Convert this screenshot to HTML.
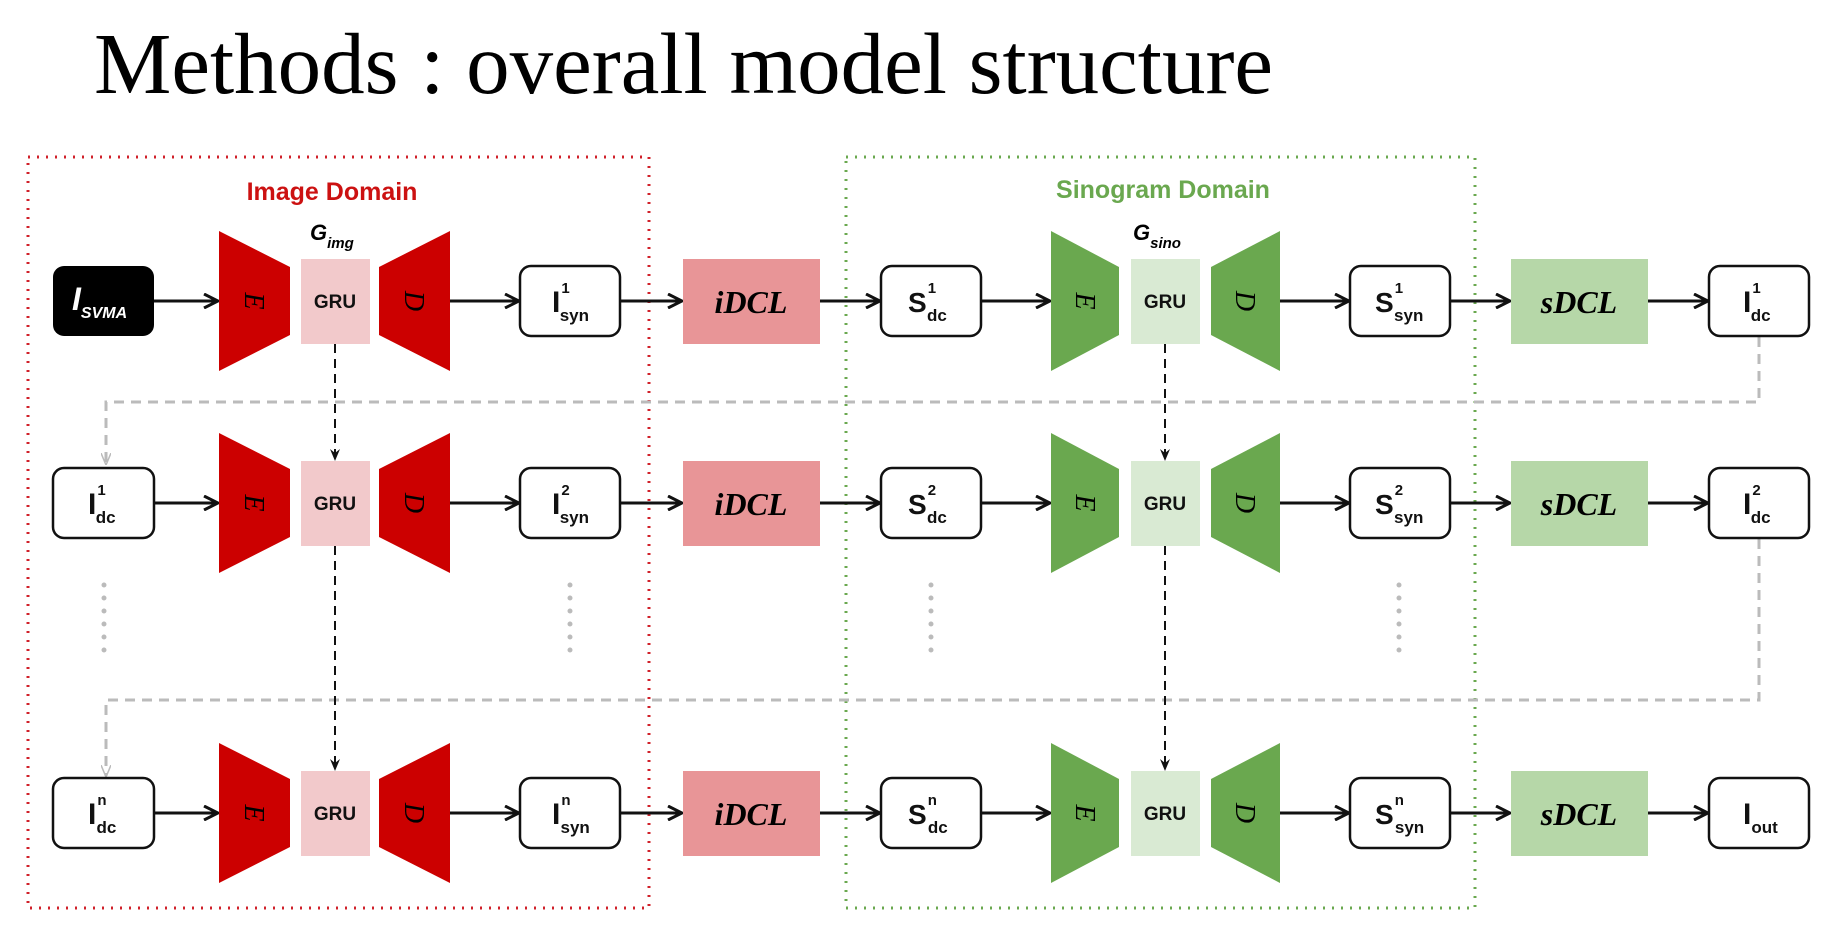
<!DOCTYPE html>
<html><head><meta charset="utf-8"><style>
html,body{margin:0;padding:0;background:#fff;}
svg{display:block;}
.t{font-family:"Liberation Sans",sans-serif;}
.b{font-family:"Liberation Sans",sans-serif;font-weight:bold;fill:#111;}
</style></head><body>
<svg width="1844" height="935" viewBox="0 0 1844 935" xmlns="http://www.w3.org/2000/svg">
<defs>
<marker id="ar" markerWidth="16" markerHeight="16" refX="15" refY="8" orient="auto" markerUnits="userSpaceOnUse">
<path d="M1,1 L15,8 L1,15" fill="none" stroke="#111" stroke-width="3"/></marker>
<marker id="ad" markerWidth="10" markerHeight="12" refX="5" refY="11" orient="0" markerUnits="userSpaceOnUse">
<path d="M0,0 L5,12 L10,0 L5,4 Z" fill="#111"/></marker>
<marker id="ag" markerWidth="10" markerHeight="12" refX="5" refY="11" orient="0" markerUnits="userSpaceOnUse">
<path d="M0,0 L5,12 L10,0" fill="none" stroke="#bbb" stroke-width="1.5"/></marker>
</defs>
<text x="94" y="93" font-family="Liberation Serif, serif" font-size="87" fill="#000">Methods : overall model structure</text>

<rect x="28" y="157" width="621" height="751" fill="none" stroke="#d0202a" stroke-width="3" stroke-dasharray="2 7"/>
<rect x="846" y="157" width="629" height="751" fill="none" stroke="#6aa84f" stroke-width="3" stroke-dasharray="2 7"/>
<text x="332" y="200" text-anchor="middle" class="t" font-size="25" font-weight="bold" fill="#cc1111">Image Domain</text>
<text x="1163" y="198" text-anchor="middle" class="t" font-size="25" font-weight="bold" fill="#6aa84f">Sinogram Domain</text>
<text x="310" y="240" class="t" font-size="22" font-weight="bold" font-style="italic">G<tspan font-size="15" dy="8">img</tspan></text>
<text x="1133" y="240" class="t" font-size="22" font-weight="bold" font-style="italic">G<tspan font-size="15" dy="8">sino</tspan></text>

<g fill="none" stroke="#bbb" stroke-width="3" stroke-dasharray="10 7">
<path d="M1759 337 V402 H106 V464" marker-end="url(#ag)"/>
<path d="M1759 539 V700 H106 V776" marker-end="url(#ag)"/>
</g>
<g stroke="#bbb" stroke-width="5" stroke-linecap="round" stroke-dasharray="0 13">
<line x1="104" y1="585" x2="104" y2="660"/>
<line x1="570" y1="585" x2="570" y2="660"/>
<line x1="931" y1="585" x2="931" y2="660"/>
<line x1="1399" y1="585" x2="1399" y2="660"/>
</g>
<g stroke="#111" stroke-width="2" stroke-dasharray="9 6" fill="none">
<line x1="335" y1="344" x2="335" y2="460" marker-end="url(#ad)"/>
<line x1="335" y1="546" x2="335" y2="770" marker-end="url(#ad)"/>
<line x1="1165" y1="344" x2="1165" y2="460" marker-end="url(#ad)"/>
<line x1="1165" y1="546" x2="1165" y2="770" marker-end="url(#ad)"/>
</g>

<!-- ROW 1 -->
<g>
<rect x="53" y="266" width="101" height="70" rx="11" fill="#000"/>
<text x="72" y="310" font-family="Liberation Sans,sans-serif" font-size="32" font-weight="bold" font-style="italic" fill="#fff">I<tspan font-size="16" dy="8">SVMA</tspan></text>
<polygon points="219,231 290,267 290,335 219,371" fill="#cc0000"/>
<rect x="301" y="259" width="69" height="85" fill="#f2c9cb"/>
<polygon points="379,267 450,231 450,371 379,335" fill="#cc0000"/>
<text x="335" y="308" text-anchor="middle" class="b" font-size="19">GRU</text>
<text transform="translate(254,301) rotate(90)" text-anchor="middle" dy="9" font-family="Liberation Serif,serif" font-style="italic" font-size="28">E</text>
<text transform="translate(414,301) rotate(90)" text-anchor="middle" dy="9" font-family="Liberation Serif,serif" font-style="italic" font-size="28">D</text>
<rect x="520" y="266" width="100" height="70" rx="11" fill="#fff" stroke="#111" stroke-width="2.5"/>
<text x="552" y="312" class="b" font-size="30">I<tspan font-size="15" dx="1" dy="-19">1</tspan><tspan font-size="17" dx="-10" dy="28">syn</tspan></text>
<rect x="683" y="259" width="137" height="85" fill="#e89597"/>
<text x="751" y="313" text-anchor="middle" font-family="Liberation Serif,serif" font-size="32" font-weight="bold" font-style="italic">iDCL</text>
<rect x="881" y="266" width="100" height="70" rx="11" fill="#fff" stroke="#111" stroke-width="2.5"/>
<text x="908" y="312" class="b" font-size="28">S<tspan font-size="15" dx="1" dy="-19">1</tspan><tspan font-size="17" dx="-9" dy="28">dc</tspan></text>
<polygon points="1051,231 1119,267 1119,335 1051,371" fill="#6aa84f"/>
<rect x="1131" y="259" width="69" height="85" fill="#d9ead3"/>
<polygon points="1211,267 1280,231 1280,371 1211,335" fill="#6aa84f"/>
<text x="1165" y="308" text-anchor="middle" class="b" font-size="19">GRU</text>
<text transform="translate(1085,301) rotate(90)" text-anchor="middle" dy="9" font-family="Liberation Serif,serif" font-style="italic" font-size="28">E</text>
<text transform="translate(1245,301) rotate(90)" text-anchor="middle" dy="9" font-family="Liberation Serif,serif" font-style="italic" font-size="28">D</text>
<rect x="1350" y="266" width="100" height="70" rx="11" fill="#fff" stroke="#111" stroke-width="2.5"/>
<text x="1375" y="312" class="b" font-size="28">S<tspan font-size="15" dx="1" dy="-19">1</tspan><tspan font-size="17" dx="-9" dy="28">syn</tspan></text>
<rect x="1511" y="259" width="137" height="85" fill="#b6d7a8"/>
<text x="1579" y="313" text-anchor="middle" font-family="Liberation Serif,serif" font-size="32" font-weight="bold" font-style="italic">sDCL</text>
<rect x="1709" y="266" width="100" height="70" rx="11" fill="#fff" stroke="#111" stroke-width="2.5"/>
<text x="1743" y="312" class="b" font-size="30">I<tspan font-size="15" dx="1" dy="-19">1</tspan><tspan font-size="17" dx="-10" dy="28">dc</tspan></text>
</g>

<!-- ROW 2 -->
<g>
<rect x="53" y="468" width="101" height="70" rx="11" fill="#fff" stroke="#111" stroke-width="2.5"/>
<text x="88" y="514" class="b" font-size="30">I<tspan font-size="15" dx="1" dy="-19">1</tspan><tspan font-size="17" dx="-10" dy="28">dc</tspan></text>
<polygon points="219,433 290,469 290,537 219,573" fill="#cc0000"/>
<rect x="301" y="461" width="69" height="85" fill="#f2c9cb"/>
<polygon points="379,469 450,433 450,573 379,537" fill="#cc0000"/>
<text x="335" y="510" text-anchor="middle" class="b" font-size="19">GRU</text>
<text transform="translate(254,503) rotate(90)" text-anchor="middle" dy="9" font-family="Liberation Serif,serif" font-style="italic" font-size="28">E</text>
<text transform="translate(414,503) rotate(90)" text-anchor="middle" dy="9" font-family="Liberation Serif,serif" font-style="italic" font-size="28">D</text>
<rect x="520" y="468" width="100" height="70" rx="11" fill="#fff" stroke="#111" stroke-width="2.5"/>
<text x="552" y="514" class="b" font-size="30">I<tspan font-size="15" dx="1" dy="-19">2</tspan><tspan font-size="17" dx="-10" dy="28">syn</tspan></text>
<rect x="683" y="461" width="137" height="85" fill="#e89597"/>
<text x="751" y="515" text-anchor="middle" font-family="Liberation Serif,serif" font-size="32" font-weight="bold" font-style="italic">iDCL</text>
<rect x="881" y="468" width="100" height="70" rx="11" fill="#fff" stroke="#111" stroke-width="2.5"/>
<text x="908" y="514" class="b" font-size="28">S<tspan font-size="15" dx="1" dy="-19">2</tspan><tspan font-size="17" dx="-9" dy="28">dc</tspan></text>
<polygon points="1051,433 1119,469 1119,537 1051,573" fill="#6aa84f"/>
<rect x="1131" y="461" width="69" height="85" fill="#d9ead3"/>
<polygon points="1211,469 1280,433 1280,573 1211,537" fill="#6aa84f"/>
<text x="1165" y="510" text-anchor="middle" class="b" font-size="19">GRU</text>
<text transform="translate(1085,503) rotate(90)" text-anchor="middle" dy="9" font-family="Liberation Serif,serif" font-style="italic" font-size="28">E</text>
<text transform="translate(1245,503) rotate(90)" text-anchor="middle" dy="9" font-family="Liberation Serif,serif" font-style="italic" font-size="28">D</text>
<rect x="1350" y="468" width="100" height="70" rx="11" fill="#fff" stroke="#111" stroke-width="2.5"/>
<text x="1375" y="514" class="b" font-size="28">S<tspan font-size="15" dx="1" dy="-19">2</tspan><tspan font-size="17" dx="-9" dy="28">syn</tspan></text>
<rect x="1511" y="461" width="137" height="85" fill="#b6d7a8"/>
<text x="1579" y="515" text-anchor="middle" font-family="Liberation Serif,serif" font-size="32" font-weight="bold" font-style="italic">sDCL</text>
<rect x="1709" y="468" width="100" height="70" rx="11" fill="#fff" stroke="#111" stroke-width="2.5"/>
<text x="1743" y="514" class="b" font-size="30">I<tspan font-size="15" dx="1" dy="-19">2</tspan><tspan font-size="17" dx="-10" dy="28">dc</tspan></text>
</g>

<!-- ROW 3 -->
<g>
<rect x="53" y="778" width="101" height="70" rx="11" fill="#fff" stroke="#111" stroke-width="2.5"/>
<text x="88" y="824" class="b" font-size="30">I<tspan font-size="15" dx="1" dy="-19">n</tspan><tspan font-size="17" dx="-10" dy="28">dc</tspan></text>
<polygon points="219,743 290,779 290,847 219,883" fill="#cc0000"/>
<rect x="301" y="771" width="69" height="85" fill="#f2c9cb"/>
<polygon points="379,779 450,743 450,883 379,847" fill="#cc0000"/>
<text x="335" y="820" text-anchor="middle" class="b" font-size="19">GRU</text>
<text transform="translate(254,813) rotate(90)" text-anchor="middle" dy="9" font-family="Liberation Serif,serif" font-style="italic" font-size="28">E</text>
<text transform="translate(414,813) rotate(90)" text-anchor="middle" dy="9" font-family="Liberation Serif,serif" font-style="italic" font-size="28">D</text>
<rect x="520" y="778" width="100" height="70" rx="11" fill="#fff" stroke="#111" stroke-width="2.5"/>
<text x="552" y="824" class="b" font-size="30">I<tspan font-size="15" dx="1" dy="-19">n</tspan><tspan font-size="17" dx="-10" dy="28">syn</tspan></text>
<rect x="683" y="771" width="137" height="85" fill="#e89597"/>
<text x="751" y="825" text-anchor="middle" font-family="Liberation Serif,serif" font-size="32" font-weight="bold" font-style="italic">iDCL</text>
<rect x="881" y="778" width="100" height="70" rx="11" fill="#fff" stroke="#111" stroke-width="2.5"/>
<text x="908" y="824" class="b" font-size="28">S<tspan font-size="15" dx="1" dy="-19">n</tspan><tspan font-size="17" dx="-9" dy="28">dc</tspan></text>
<polygon points="1051,743 1119,779 1119,847 1051,883" fill="#6aa84f"/>
<rect x="1131" y="771" width="69" height="85" fill="#d9ead3"/>
<polygon points="1211,779 1280,743 1280,883 1211,847" fill="#6aa84f"/>
<text x="1165" y="820" text-anchor="middle" class="b" font-size="19">GRU</text>
<text transform="translate(1085,813) rotate(90)" text-anchor="middle" dy="9" font-family="Liberation Serif,serif" font-style="italic" font-size="28">E</text>
<text transform="translate(1245,813) rotate(90)" text-anchor="middle" dy="9" font-family="Liberation Serif,serif" font-style="italic" font-size="28">D</text>
<rect x="1350" y="778" width="100" height="70" rx="11" fill="#fff" stroke="#111" stroke-width="2.5"/>
<text x="1375" y="824" class="b" font-size="28">S<tspan font-size="15" dx="1" dy="-19">n</tspan><tspan font-size="17" dx="-9" dy="28">syn</tspan></text>
<rect x="1511" y="771" width="137" height="85" fill="#b6d7a8"/>
<text x="1579" y="825" text-anchor="middle" font-family="Liberation Serif,serif" font-size="32" font-weight="bold" font-style="italic">sDCL</text>
<rect x="1709" y="778" width="100" height="70" rx="11" fill="#fff" stroke="#111" stroke-width="2.5"/>
<text x="1743" y="824" class="b" font-size="30">I<tspan font-size="17" dx="0" dy="9">out</tspan></text>
</g>

<g stroke="#111" stroke-width="3" fill="none" marker-end="url(#ar)">
<line x1="154" y1="301" x2="218" y2="301"/><line x1="450" y1="301" x2="519" y2="301"/><line x1="620" y1="301" x2="682" y2="301"/><line x1="820" y1="301" x2="880" y2="301"/><line x1="981" y1="301" x2="1050" y2="301"/><line x1="1280" y1="301" x2="1349" y2="301"/><line x1="1450" y1="301" x2="1510" y2="301"/><line x1="1648" y1="301" x2="1708" y2="301"/>
<line x1="154" y1="503" x2="218" y2="503"/><line x1="450" y1="503" x2="519" y2="503"/><line x1="620" y1="503" x2="682" y2="503"/><line x1="820" y1="503" x2="880" y2="503"/><line x1="981" y1="503" x2="1050" y2="503"/><line x1="1280" y1="503" x2="1349" y2="503"/><line x1="1450" y1="503" x2="1510" y2="503"/><line x1="1648" y1="503" x2="1708" y2="503"/>
<line x1="154" y1="813" x2="218" y2="813"/><line x1="450" y1="813" x2="519" y2="813"/><line x1="620" y1="813" x2="682" y2="813"/><line x1="820" y1="813" x2="880" y2="813"/><line x1="981" y1="813" x2="1050" y2="813"/><line x1="1280" y1="813" x2="1349" y2="813"/><line x1="1450" y1="813" x2="1510" y2="813"/><line x1="1648" y1="813" x2="1708" y2="813"/>
</g>
</svg>
</body></html>
